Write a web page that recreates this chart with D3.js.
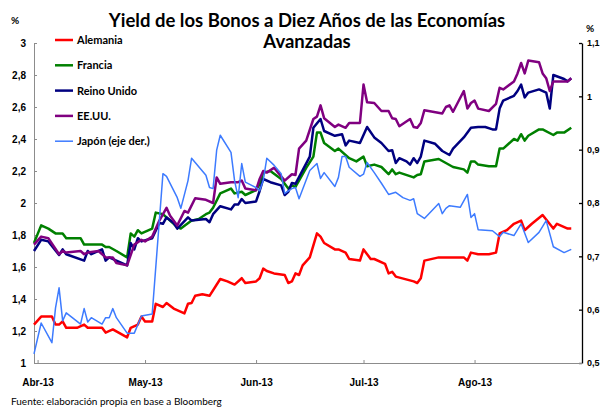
<!DOCTYPE html>
<html>
<head>
<meta charset="utf-8">
<script src="https://cdnjs.cloudflare.com/ajax/libs/d3/7.8.5/d3.min.js"></script>
<style>
body { margin: 0; background: #fff; }
svg { display: block; font-family: Lato, 'Open Sans', sans-serif; }
</style>
</head>
<body>
<svg width="601" height="408"></svg>
<script>
// series values, [date, yield]
const alemania = [["2013-03-31",1.24],["2013-04-02",1.29],["2013-04-05",1.29],["2013-04-06",1.24],["2013-04-07",1.24],["2013-04-08",1.26],["2013-04-09",1.22],["2013-04-12",1.22],["2013-04-14",1.24],["2013-04-15",1.22],["2013-04-19",1.22],["2013-04-20",1.19],["2013-04-22",1.21],["2013-04-26",1.16],["2013-04-27",1.22],["2013-04-29",1.24],["2013-04-30",1.29],["2013-05-01",1.26],["2013-05-03",1.26],["2013-05-04",1.37],["2013-05-06",1.35],["2013-05-07",1.375],["2013-05-09",1.34],["2013-05-12",1.31],["2013-05-13",1.37],["2013-05-14",1.375],["2013-05-15",1.42],["2013-05-17",1.43],["2013-05-19",1.42],["2013-05-22",1.525],["2013-05-24",1.51],["2013-05-26",1.49],["2013-05-28",1.53],["2013-05-29",1.50],["2013-06-01",1.51],["2013-06-02",1.53],["2013-06-03",1.59],["2013-06-04",1.575],["2013-06-06",1.56],["2013-06-09",1.55],["2013-06-10",1.50],["2013-06-11",1.51],["2013-06-12",1.56],["2013-06-13",1.55],["2013-06-14",1.61],["2013-06-16",1.66],["2013-06-18",1.81],["2013-06-19",1.79],["2013-06-20",1.75],["2013-06-23",1.71],["2013-06-24",1.71],["2013-06-26",1.69],["2013-06-27",1.65],["2013-06-30",1.64],["2013-07-01",1.71],["2013-07-03",1.65],["2013-07-04",1.65],["2013-07-07",1.62],["2013-07-08",1.56],["2013-07-09",1.57],["2013-07-10",1.54],["2013-07-15",1.51],["2013-07-16",1.50],["2013-07-17",1.53],["2013-07-18",1.64],["2013-07-22",1.66],["2013-07-23",1.66],["2013-07-25",1.66],["2013-07-29",1.66],["2013-07-30",1.64],["2013-07-31",1.69],["2013-08-02",1.68],["2013-08-05",1.68],["2013-08-07",1.69],["2013-08-08",1.81],["2013-08-10",1.83],["2013-08-12",1.87],["2013-08-14",1.89],["2013-08-15",1.83],["2013-08-17",1.87],["2013-08-20",1.925],["2013-08-23",1.84],["2013-08-24",1.87],["2013-08-27",1.84],["2013-08-28",1.84]];

const francia = [["2013-03-31",1.75],["2013-04-02",1.86],["2013-04-04",1.84],["2013-04-06",1.81],["2013-04-08",1.81],["2013-04-09",1.78],["2013-04-13",1.78],["2013-04-14",1.74],["2013-04-19",1.74],["2013-04-20",1.725],["2013-04-21",1.725],["2013-04-23",1.70],["2013-04-26",1.66],["2013-04-27",1.81],["2013-04-28",1.79],["2013-04-29",1.83],["2013-04-30",1.81],["2013-05-03",1.84],["2013-05-04",1.94],["2013-05-06",1.93],["2013-05-07",1.91],["2013-05-10",1.85],["2013-05-11",1.84],["2013-05-14",1.89],["2013-05-16",1.90],["2013-05-18",1.93],["2013-05-19",1.94],["2013-05-20",1.97],["2013-05-22",2.06],["2013-05-25",2.09],["2013-05-26",2.06],["2013-05-28",2.07],["2013-05-29",2.05],["2013-06-01",2.08],["2013-06-02",2.12],["2013-06-03",2.19],["2013-06-05",2.20],["2013-06-08",2.15],["2013-06-10",2.09],["2013-06-11",2.11],["2013-06-12",2.10],["2013-06-15",2.22],["2013-06-17",2.29],["2013-06-18",2.44],["2013-06-19",2.44],["2013-06-20",2.375],["2013-06-23",2.325],["2013-06-24",2.34],["2013-06-27",2.28],["2013-06-29",2.26],["2013-07-01",2.29],["2013-07-02",2.23],["2013-07-04",2.24],["2013-07-06",2.225],["2013-07-08",2.18],["2013-07-09",2.21],["2013-07-10",2.18],["2013-07-11",2.19],["2013-07-15",2.16],["2013-07-16",2.175],["2013-07-17",2.18],["2013-07-18",2.26],["2013-07-22",2.275],["2013-07-24",2.25],["2013-07-26",2.225],["2013-07-29",2.21],["2013-07-30",2.19],["2013-07-31",2.26],["2013-08-01",2.26],["2013-08-02",2.24],["2013-08-05",2.23],["2013-08-07",2.23],["2013-08-08",2.34],["2013-08-09",2.34],["2013-08-12",2.40],["2013-08-13",2.39],["2013-08-14",2.43],["2013-08-15",2.39],["2013-08-16",2.42],["2013-08-19",2.46],["2013-08-20",2.46],["2013-08-23",2.425],["2013-08-24",2.44],["2013-08-26",2.44],["2013-08-28",2.47]];

const reinoUnido = [["2013-03-31",1.70],["2013-04-02",1.77],["2013-04-04",1.76],["2013-04-07",1.675],["2013-04-08",1.71],["2013-04-09",1.68],["2013-04-14",1.64],["2013-04-15",1.70],["2013-04-16",1.68],["2013-04-19",1.71],["2013-04-20",1.64],["2013-04-21",1.66],["2013-04-23",1.64],["2013-04-26",1.61],["2013-04-27",1.75],["2013-04-28",1.71],["2013-04-29",1.78],["2013-04-30",1.76],["2013-05-03",1.78],["2013-05-05",1.875],["2013-05-06",1.87],["2013-05-07",1.91],["2013-05-09",1.875],["2013-05-10",1.84],["2013-05-13",1.91],["2013-05-14",1.89],["2013-05-18",1.90],["2013-05-19",1.88],["2013-05-20",1.93],["2013-05-22",1.98],["2013-05-25",1.96],["2013-05-26",1.99],["2013-05-27",1.99],["2013-05-28",2.025],["2013-05-29",2.00],["2013-06-01",2.01],["2013-06-02",2.075],["2013-06-03",2.15],["2013-06-05",2.13],["2013-06-08",2.11],["2013-06-09",2.05],["2013-06-10",2.07],["2013-06-11",2.125],["2013-06-12",2.12],["2013-06-16",2.29],["2013-06-17",2.47],["2013-06-19",2.525],["2013-06-20",2.45],["2013-06-23",2.42],["2013-06-25",2.43],["2013-06-26",2.36],["2013-06-27",2.39],["2013-06-30",2.375],["2013-07-02",2.475],["2013-07-04",2.41],["2013-07-06",2.375],["2013-07-08",2.325],["2013-07-09",2.33],["2013-07-10",2.25],["2013-07-11",2.28],["2013-07-13",2.26],["2013-07-14",2.24],["2013-07-15",2.28],["2013-07-16",2.25],["2013-07-17",2.29],["2013-07-18",2.39],["2013-07-21",2.37],["2013-07-23",2.325],["2013-07-25",2.30],["2013-07-26",2.34],["2013-07-29",2.41],["2013-07-31",2.47],["2013-08-02",2.475],["2013-08-04",2.475],["2013-08-06",2.46],["2013-08-07",2.46],["2013-08-08",2.59],["2013-08-09",2.64],["2013-08-12",2.67],["2013-08-13",2.70],["2013-08-14",2.74],["2013-08-15",2.66],["2013-08-16",2.69],["2013-08-19",2.71],["2013-08-21",2.69],["2013-08-22",2.59],["2013-08-23",2.80],["2013-08-26",2.775],["2013-08-27",2.76],["2013-08-28",2.78]];

const eeuu = [["2013-03-31",1.74],["2013-04-02",1.79],["2013-04-04",1.78],["2013-04-07",1.68],["2013-04-08",1.70],["2013-04-09",1.69],["2013-04-13",1.70],["2013-04-14",1.68],["2013-04-15",1.69],["2013-04-18",1.70],["2013-04-20",1.66],["2013-04-22",1.66],["2013-04-23",1.625],["2013-04-26",1.61],["2013-04-28",1.74],["2013-04-30",1.77],["2013-05-01",1.76],["2013-05-03",1.79],["2013-05-05",1.89],["2013-05-07",1.97],["2013-05-08",1.92],["2013-05-10",1.86],["2013-05-12",1.95],["2013-05-13",1.94],["2013-05-15",2.03],["2013-05-18",2.02],["2013-05-20",2.00],["2013-05-21",2.16],["2013-05-22",2.12],["2013-05-25",2.13],["2013-05-27",2.13],["2013-05-28",2.14],["2013-05-29",2.09],["2013-06-01",2.08],["2013-06-02",2.15],["2013-06-03",2.20],["2013-06-04",2.19],["2013-06-06",2.22],["2013-06-09",2.14],["2013-06-11",2.18],["2013-06-12",2.175],["2013-06-13",2.34],["2013-06-15",2.39],["2013-06-17",2.525],["2013-06-18",2.54],["2013-06-19",2.61],["2013-06-20",2.53],["2013-06-23",2.475],["2013-06-24",2.49],["2013-06-26",2.47],["2013-06-27",2.50],["2013-06-30",2.50],["2013-07-01",2.74],["2013-07-02",2.63],["2013-07-04",2.625],["2013-07-06",2.575],["2013-07-08",2.575],["2013-07-09",2.53],["2013-07-10",2.525],["2013-07-11",2.48],["2013-07-14",2.525],["2013-07-15",2.475],["2013-07-16",2.47],["2013-07-17",2.50],["2013-07-18",2.58],["2013-07-23",2.56],["2013-07-24",2.60],["2013-07-25",2.61],["2013-07-26",2.57],["2013-07-29",2.70],["2013-07-30",2.59],["2013-07-31",2.625],["2013-08-01",2.64],["2013-08-02",2.59],["2013-08-05",2.575],["2013-08-07",2.62],["2013-08-08",2.72],["2013-08-09",2.71],["2013-08-12",2.76],["2013-08-13",2.81],["2013-08-14",2.875],["2013-08-15",2.81],["2013-08-16",2.89],["2013-08-19",2.88],["2013-08-20",2.81],["2013-08-21",2.78],["2013-08-22",2.70],["2013-08-23",2.76],["2013-08-27",2.76],["2013-08-28",2.78]];

// Japon goes on the right axis
const japon = [["2013-03-31",0.517],["2013-04-02",0.575],["2013-04-05",0.538],["2013-04-06",0.603],["2013-04-07",0.641],["2013-04-08",0.579],["2013-04-09",0.594],["2013-04-13",0.573],["2013-04-14",0.602],["2013-04-15",0.577],["2013-04-16",0.585],["2013-04-19",0.573],["2013-04-20",0.585],["2013-04-21",0.585],["2013-04-22",0.602],["2013-04-23",0.585],["2013-04-26",0.556],["2013-04-28",0.556],["2013-04-30",0.588],["2013-05-03",0.592],["2013-05-06",0.855],["2013-05-07",0.850],["2013-05-10",0.810],["2013-05-11",0.790],["2013-05-13",0.842],["2013-05-14",0.884],["2013-05-18",0.852],["2013-05-19",0.829],["2013-05-20",0.827],["2013-05-21",0.899],["2013-05-22",0.927],["2013-05-25",0.895],["2013-05-26",0.842],["2013-05-27",0.810],["2013-05-28",0.874],["2013-05-29",0.839],["2013-06-01",0.829],["2013-06-02",0.823],["2013-06-03",0.842],["2013-06-04",0.884],["2013-06-06",0.871],["2013-06-08",0.855],["2013-06-09",0.818],["2013-06-11",0.827],["2013-06-12",0.829],["2013-06-13",0.808],["2013-06-16",0.861],["2013-06-18",0.874],["2013-06-19",0.846],["2013-06-20",0.857],["2013-06-23",0.831],["2013-06-24",0.848],["2013-06-25",0.887],["2013-06-26",0.887],["2013-06-27",0.867],["2013-06-30",0.850],["2013-07-01",0.854],["2013-07-02",0.876],["2013-07-04",0.857],["2013-07-06",0.837],["2013-07-08",0.816],["2013-07-10",0.820],["2013-07-12",0.810],["2013-07-14",0.805],["2013-07-15",0.808],["2013-07-16",0.780],["2013-07-18",0.771],["2013-07-22",0.799],["2013-07-23",0.780],["2013-07-24",0.790],["2013-07-25",0.795],["2013-07-28",0.792],["2013-07-30",0.816],["2013-07-31",0.773],["2013-08-01",0.780],["2013-08-02",0.750],["2013-08-06",0.748],["2013-08-08",0.737],["2013-08-09",0.745],["2013-08-12",0.739],["2013-08-14",0.761],["2013-08-16",0.726],["2013-08-19",0.745],["2013-08-21",0.767],["2013-08-23",0.718],["2013-08-26",0.707],["2013-08-28",0.713]];

const seriesNames = ['Alemania', 'Francia', 'Reino Unido', 'EE.UU.', 'Japón (eje der.)'];
const monthTicks = ['2013-04-01', '2013-05-01', '2013-06-01', '2013-07-01', '2013-08-01'];
const monthLabels = ['Abr-13', 'May-13', 'Jun-13', 'Jul-13', 'Ago-13'];
const leftTicks = [1, 1.2, 1.4, 1.6, 1.8, 2, 2.2, 2.4, 2.6, 2.8, 3];
const rightTicks = [0.5, 0.6, 0.7, 0.8, 0.9, 1, 1.1];

const colors = ['#ff0000', '#008000', '#000080', '#800080', '#3d7bff'];
const widths = [2.5, 2.5, 2.5, 2.5, 1.5];

const parseDate = d3.timeParse('%Y-%m-%d');
const svg = d3.select('svg');

const x = d3.scaleTime().
    domain([parseDate('2013-03-31'), parseDate('2013-08-31')]).
    range([34, 582]);
const yLeft = d3.scaleLinear().domain([1, 3]).range([363, 43]);
const yRight = d3.scaleLinear().domain([0.5, 1.1]).range([363, 43]);

const comma = d => d3.format('~g')(d).replace('.', ',');

// axes
const leftAxis = svg.append('g').
    attr('transform', 'translate(34,0)').
    call(d3.axisLeft(yLeft).tickValues(leftTicks).tickSizeInner(-3).tickSizeOuter(0).tickPadding(8).tickFormat(comma));
leftAxis.selectAll('path, line').attr('stroke', '#8c8c8c');

const rightAxis = svg.append('g').
    attr('transform', 'translate(582,0)').
    call(d3.axisRight(yRight).tickValues(rightTicks).tickSizeInner(-3).tickSizeOuter(0).tickPadding(5).tickFormat(comma));
rightAxis.selectAll('path, line').attr('stroke', '#000').attr('stroke-width', 1.3);

const bottomAxis = svg.append('g').
    attr('transform', 'translate(0,363)').
    call(d3.axisBottom(x).tickValues(monthTicks.map(parseDate)).tickSizeInner(-3).tickSizeOuter(0).tickPadding(16).
        tickFormat((d, i) => monthLabels[i]));
bottomAxis.selectAll('path, line').attr('stroke', '#8c8c8c');

svg.selectAll('.tick text').
    attr('fill', '#000').
    style('font-size', '10px').
    style('font-weight', 'bold');
// right labels are tight against the window edge
rightAxis.selectAll('.tick text').style('font-size', '9px');

// lines
const leftLine = d3.line().x(d => x(parseDate(d[0]))).y(d => yLeft(d[1]));
const rightLine = d3.line().x(d => x(parseDate(d[0]))).y(d => yRight(d[1]));

const allSeries = [alemania, francia, reinoUnido, eeuu, japon];
allSeries.forEach((s, i) => {
    svg.append('path').
        datum(s).
        attr('d', i == 4 ? rightLine : leftLine).
        attr('fill', 'none').
        attr('stroke', colors[i]).
        attr('stroke-width', widths[i]).
        attr('stroke-linejoin', 'round');
});

// legend
seriesNames.forEach((name, i) => {
    const ly = 40 + i * 25.3;
    svg.append('line').
        attr('x1', 55).attr('x2', 73).
        attr('y1', ly).attr('y2', ly).
        attr('stroke', colors[i]).
        attr('stroke-width', i == 4 ? 1.5 : 2.5);
    svg.append('text').
        attr('x', 77).attr('y', ly + 4).
        style('font-size', '11px').
        style('font-weight', 'bold').
        text(name);
});

// titles and notes
svg.append('text').
    attr('x', 307).attr('y', 27).
    attr('text-anchor', 'middle').
    style('font-size', '18.5px').
    style('font-weight', 'bold').
    text('Yield de los Bonos a Diez Años de las Economías');
svg.append('text').
    attr('x', 307).attr('y', 48).
    attr('text-anchor', 'middle').
    style('font-size', '18.5px').
    style('font-weight', 'bold').
    text('Avanzadas');

svg.append('text').attr('x', 11).attr('y', 24).style('font-size', '10px').style('font-weight', 'bold').text('%');
svg.append('text').attr('x', 586).attr('y', 32).style('font-size', '10px').style('font-weight', 'bold').text('%');

svg.append('text').
    attr('x', 11).attr('y', 405).
    style('font-size', '10px').
    text('Fuente: elaboración propia en base a Bloomberg');
</script>
</body>
</html>
